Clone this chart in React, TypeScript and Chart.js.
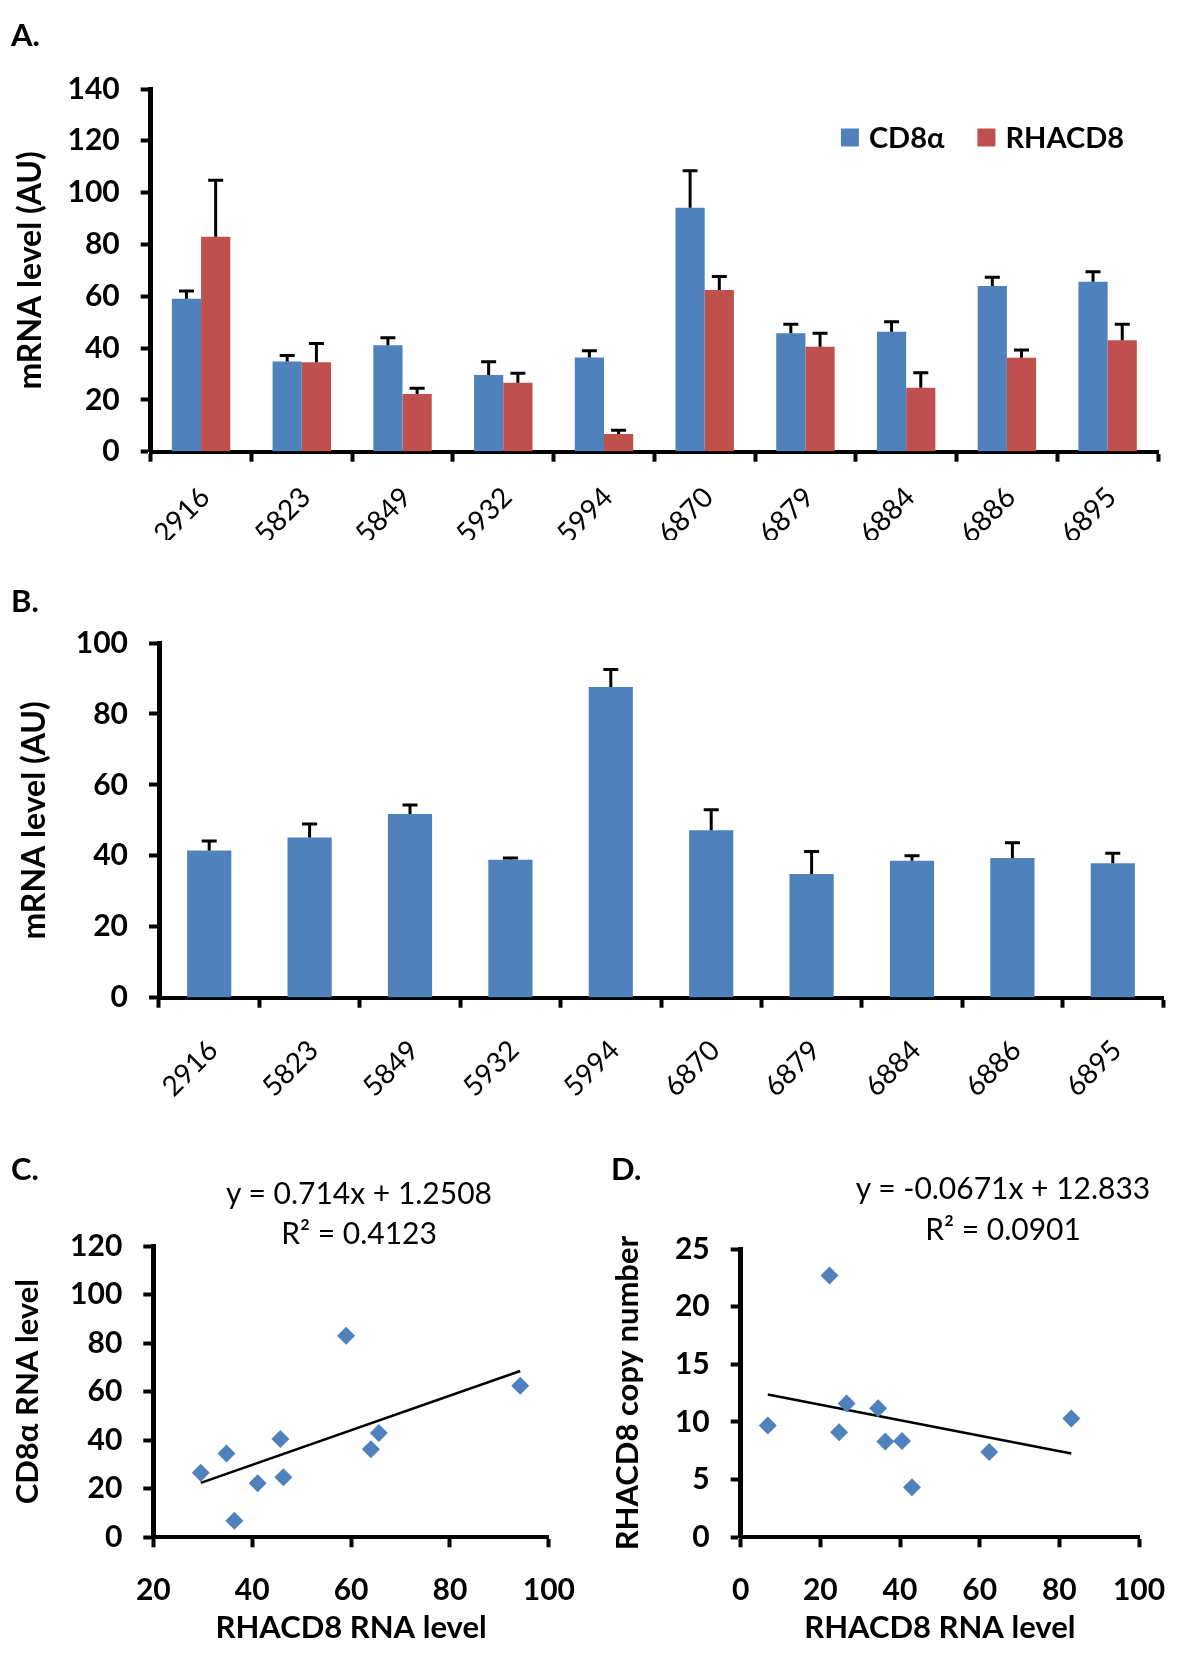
import React, { useEffect, useRef } from "react";
import { Chart, registerables } from "chart.js";

Chart.register(...registerables);

const FONT = "Lato, 'Open Sans', 'DejaVu Sans', sans-serif";
Chart.defaults.font.family = FONT;
Chart.defaults.color = "#000";

// ---------------- data ----------------
const samples = ["2916", "5823", "5849", "5932", "5994", "6870", "6879", "6884", "6886", "6895"];

// Panel A
const cd8aLevel = [59.0, 34.8, 41.1, 29.6, 36.4, 94.2, 45.7, 46.3, 64.0, 65.6];
const cd8aErr = [3.0, 2.3, 2.9, 5.1, 2.6, 14.2, 3.5, 3.9, 3.3, 3.9];
const rhacd8Level = [83.0, 34.5, 22.3, 26.6, 6.8, 62.4, 40.5, 24.7, 36.3, 43.0];
const rhacd8Err = [21.8, 7.3, 2.2, 3.7, 1.5, 5.2, 5.2, 5.8, 3.0, 6.2];

// Panel B
const panelBLevel = [41.5, 45.2, 51.8, 38.9, 87.6, 47.2, 34.9, 38.6, 39.4, 37.9];
const panelBErr = [2.7, 3.8, 2.5, 0.5, 4.9, 5.8, 6.3, 1.4, 4.3, 2.8];

// Panel D (per sample)
const rhacd8CopyNumber = [10.3, 11.2, 22.7, 11.6, 9.7, 7.4, 8.35, 9.1, 8.3, 4.35];

// Trend lines (end points)
const trendC = [
  { x: 29.6, y: 22.4 },
  { x: 94.2, y: 68.5 },
];
const trendD = [
  { x: 6.8, y: 12.38 },
  { x: 83.0, y: 7.26 },
];

const eqC = "y = 0.714x + 1.2508";
const r2C = "R² = 0.4123";
const eqD = "y = -0.0671x + 12.833";
const r2D = "R² = 0.0901";

const BLUE = "#4F81BD";
const RED = "#C0504D";

// ---------------- plugins ----------------
const errorBarPlugin = {
  id: "errorBars",
  afterDatasetsDraw(chart: any, _args: any, opts: any) {
    const errs: number[][] | undefined = opts && opts.errors;
    if (!errs) return;
    const ctx = chart.ctx;
    ctx.save();
    ctx.strokeStyle = "#000";
    ctx.lineWidth = 3;
    chart.data.datasets.forEach((ds: any, i: number) => {
      const e = errs[i];
      if (!e) return;
      const meta = chart.getDatasetMeta(i);
      const ys = chart.scales[meta.yAxisID];
      meta.data.forEach((el: any, j: number) => {
        const top = ys.getPixelForValue(ds.data[j] + e[j]);
        ctx.beginPath();
        ctx.moveTo(el.x, el.y);
        ctx.lineTo(el.x, top);
        ctx.moveTo(el.x - 7.5, top);
        ctx.lineTo(el.x + 7.5, top);
        ctx.stroke();
      });
    });
    ctx.restore();
  },
};

const insideLegendPlugin = {
  id: "insideLegend",
  afterDraw(chart: any, _args: any, opts: any) {
    if (!opts || !opts.display) return;
    const ctx = chart.ctx;
    ctx.save();
    ctx.font = `bold ${opts.fontSize}px ${FONT}`;
    ctx.textBaseline = "middle";
    ctx.textAlign = "left";
    const items = chart.data.datasets.map((ds: any) => ({
      label: ds.label,
      color: ds.backgroundColor,
      w: ctx.measureText(ds.label).width,
    }));
    const { boxSize, boxGap, itemGap } = opts;
    const total =
      items.reduce((s: number, it: any) => s + boxSize + boxGap + it.w, 0) + itemGap * (items.length - 1);
    let x = chart.chartArea.right - opts.rightInset - total;
    const y = chart.chartArea.top + opts.topInset;
    items.forEach((it: any) => {
      ctx.fillStyle = it.color;
      ctx.fillRect(x, y - boxSize / 2, boxSize, boxSize);
      x += boxSize + boxGap;
      ctx.fillStyle = "#000";
      ctx.fillText(it.label, x, y + 1);
      x += it.w + itemGap;
    });
    ctx.restore();
  },
};

// ---------------- scale helpers ----------------
const tickGrid = {
  display: true,
  drawOnChartArea: false,
  drawTicks: true,
  tickLength: 10,
  tickWidth: 4,
  tickColor: "#000",
};

function yAxis(max: number, step: number, width: number, title: string, titlePad: number, titleSize = 31) {
  return {
    type: "linear",
    min: 0,
    max,
    ticks: { stepSize: step, font: { size: 30, weight: "bold" }, padding: 21, color: "#000" },
    grid: { ...tickGrid },
    border: { display: true, color: "#000", width: 5 },
    title: {
      display: true,
      text: title,
      color: "#000",
      font: { size: titleSize, weight: "bold" },
      padding: { top: titlePad, bottom: 0 },
    },
    afterFit: (s: any) => {
      s.width = width;
    },
  };
}

function catX(height: number, labelPad: number) {
  return {
    type: "category",
    z: 1,
    ticks: {
      font: { size: 28 },
      minRotation: 45,
      maxRotation: 45,
      padding: labelPad,
      labelOffset: 4,
      autoSkip: false,
      color: "#000",
    },
    grid: { ...tickGrid, offset: true },
    border: { display: true, color: "#000", width: 4 },
    afterFit: (s: any) => {
      s.height = height;
    },
  };
}

function linX(min: number, max: number, height: number, title: string) {
  return {
    type: "linear",
    min,
    max,
    z: 1,
    ticks: { stepSize: 20, font: { size: 30, weight: "bold" }, padding: 25, color: "#000" },
    grid: { ...tickGrid },
    border: { display: true, color: "#000", width: 4 },
    title: {
      display: true,
      text: title,
      color: "#000",
      font: { size: 31, weight: "bold" },
      padding: { top: 0, bottom: 11 },
    },
    afterFit: (s: any) => {
      s.height = height;
    },
  };
}

function ChartCanvas({ left, top, width, height, makeConfig }: any) {
  const ref = useRef<HTMLCanvasElement>(null);
  useEffect(() => {
    const chart = new Chart(ref.current as HTMLCanvasElement, makeConfig());
    return () => chart.destroy();
  }, []);
  return (
    <div style={{ position: "absolute", left, top, width, height }}>
      <canvas ref={ref} width={width} height={height} style={{ width, height, display: "block" }} />
    </div>
  );
}

// ---------------- configs ----------------
const configA = () => ({
  type: "bar",
  data: {
    labels: samples,
    datasets: [
      { label: "CD8α", data: cd8aLevel, backgroundColor: BLUE, borderWidth: 0 },
      { label: "RHACD8", data: rhacd8Level, backgroundColor: RED, borderWidth: 0 },
    ],
  },
  plugins: [errorBarPlugin, insideLegendPlugin],
  options: {
    responsive: false,
    animation: false,
    devicePixelRatio: 1,
    layout: { padding: { top: 39, right: 42, left: 0, bottom: 0 } },
    datasets: { bar: { categoryPercentage: 0.58, barPercentage: 1.0 } },
    scales: {
      x: catX(88.3, 19),
      y: yAxis(140, 20, 150.7, "mRNA level (AU)", 11, 32),
    },
    plugins: {
      legend: { display: false },
      tooltip: { enabled: false },
      errorBars: { errors: [cd8aErr, rhacd8Err] },
      insideLegend: { display: true, fontSize: 29, boxSize: 18, boxGap: 10, itemGap: 33, rightInset: 34, topInset: 48.5 },
    },
  },
});

const configB = () => ({
  type: "bar",
  data: {
    labels: samples,
    datasets: [{ label: "B", data: panelBLevel, backgroundColor: BLUE, borderWidth: 0 }],
  },
  plugins: [errorBarPlugin],
  options: {
    responsive: false,
    animation: false,
    devicePixelRatio: 1,
    layout: { padding: { top: 43, right: 37, left: 0, bottom: 0 } },
    datasets: { bar: { categoryPercentage: 0.44, barPercentage: 1.0 } },
    scales: {
      x: catX(122.3, 26),
      y: yAxis(100, 20, 159, "mRNA level (AU)", 15.5, 32),
    },
    plugins: {
      legend: { display: false },
      tooltip: { enabled: false },
      errorBars: { errors: [panelBErr] },
    },
  },
});

const scatterPoints = (xs: number[], ys: number[]) => xs.map((x, i) => ({ x, y: ys[i] }));

const configC = () => ({
  type: "scatter",
  data: {
    datasets: [
      {
        data: scatterPoints(cd8aLevel, rhacd8Level),
        pointStyle: "rectRot",
        pointRadius: 9,
        backgroundColor: BLUE,
        borderColor: BLUE,
        borderWidth: 0,
      },
      {
        data: trendC,
        showLine: true,
        pointRadius: 0,
        borderColor: "#000",
        borderWidth: 2.5,
        fill: false,
      },
    ],
  },
  options: {
    responsive: false,
    animation: false,
    devicePixelRatio: 1,
    layout: { padding: { top: 106, right: 40, left: 0, bottom: 0 } },
    scales: {
      x: linX(20, 100, 120.7, "RHACD8 RNA level"),
      y: yAxis(120, 20, 153.3, "CD8α RNA level", 9, 31),
    },
    plugins: { legend: { display: false }, tooltip: { enabled: false } },
  },
});

const configD = () => ({
  type: "scatter",
  data: {
    datasets: [
      {
        data: scatterPoints(rhacd8Level, rhacd8CopyNumber),
        pointStyle: "rectRot",
        pointRadius: 9,
        backgroundColor: BLUE,
        borderColor: BLUE,
        borderWidth: 0,
      },
      {
        data: trendD,
        showLine: true,
        pointRadius: 0,
        borderColor: "#000",
        borderWidth: 2.5,
        fill: false,
      },
    ],
  },
  options: {
    responsive: false,
    animation: false,
    devicePixelRatio: 1,
    layout: { padding: { top: 109, right: 61, left: 0, bottom: 0 } },
    scales: {
      x: linX(0, 100, 120.7, "RHACD8 RNA level"),
      y: yAxis(25, 5, 140.7, "RHACD8 copy number", 9, 31),
    },
    plugins: { legend: { display: false }, tooltip: { enabled: false } },
  },
});

// ---------------- text helpers ----------------
function Label({ x, y, text, size = 31, bold = true, center = false }: any) {
  return (
    <div
      style={{
        position: "absolute",
        left: x,
        top: y,
        transform: center ? "translate(-50%, -50%)" : "translate(0, -50%)",
        fontFamily: FONT,
        fontSize: size,
        fontWeight: bold ? 700 : 400,
        lineHeight: 1,
        whiteSpace: "nowrap",
        color: "#000",
      }}
    >
      {text}
    </div>
  );
}

export default function App() {
  return (
    <div
      style={{
        position: "absolute",
        left: 0,
        top: 0,
        width: 1200,
        height: 1658,
        background: "#fff",
        overflow: "hidden",
      }}
    >
      <ChartCanvas left={0} top={50} width={1200} height={490} makeConfig={configA} />
      <ChartCanvas left={0} top={600} width={1200} height={520} makeConfig={configB} />
      <ChartCanvas left={0} top={1140} width={600} height={518} makeConfig={configC} />
      <ChartCanvas left={600} top={1140} width={600} height={518} makeConfig={configD} />

      <Label x={11} y={34} text="A." />
      <Label x={11} y={600} text="B." />
      <Label x={11} y={1168} text="C." />
      <Label x={611} y={1168} text="D." />

      <Label x={359} y={1192} text={eqC} size={30} bold={false} center />
      <Label x={359} y={1232} text={r2C} size={30} bold={false} center />
      <Label x={1003} y={1187} text={eqD} size={30} bold={false} center />
      <Label x={1003} y={1228} text={r2D} size={30} bold={false} center />
    </div>
  );
}
